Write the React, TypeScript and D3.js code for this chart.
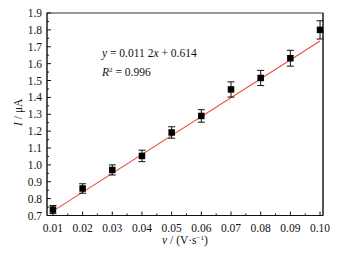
import React from "react";
import * as d3 from "d3";

const scanRates = [0.01, 0.02, 0.03, 0.04, 0.05, 0.06, 0.07, 0.08, 0.09, 0.1];
const currents = [0.735, 0.86, 0.97, 1.053, 1.192, 1.29, 1.447, 1.515, 1.632, 1.8];
const errors = [0.024, 0.028, 0.03, 0.034, 0.034, 0.037, 0.045, 0.045, 0.047, 0.054];
const xTicks = [0.01, 0.02, 0.03, 0.04, 0.05, 0.06, 0.07, 0.08, 0.09, 0.1];
const yTicks = [0.7, 0.8, 0.9, 1.0, 1.1, 1.2, 1.3, 1.4, 1.5, 1.6, 1.7, 1.8, 1.9];
const fitSlope = 11.2;
const fitIntercept = 0.614;

const W = 341, H = 259;
const L = 47, R = 323, T = 13, B = 215.5;
const font = "'Liberation Serif', 'DejaVu Serif', serif";

export default function App() {
  const x = d3.scaleLinear().domain([0.008, 0.101]).range([L, R]);
  const y = d3.scaleLinear().domain([0.7, 1.9]).range([B, T]);
  const xMinor = d3.range(0.015, 0.1, 0.01);
  const yMinor = d3.range(0.75, 1.9, 0.1);
  const line = d3.line<number>().x((d) => x(d)).y((d) => y(fitSlope * d + fitIntercept));
  const fitXs = [scanRates[0], scanRates[scanRates.length - 1]];
  const ms = 6.5;
  const cap = 3.5;
  return (
    <svg width={W} height={H} style={{ position: "absolute", left: 0, top: 0, background: "#fff" }}>
      <rect x={L} y={T} width={R - L} height={B - T} fill="none" stroke="#333" strokeWidth={1} />
      <line x1={L} y1={T} x2={L} y2={B} stroke="#111" />
      <line x1={L} y1={B} x2={R} y2={B} stroke="#111" />
      <line x1={R} y1={T} x2={R} y2={B} stroke="#111" />
      {xTicks.map((t) => (
        <g key={"xt" + t}>
          <line x1={x(t)} x2={x(t)} y1={B} y2={B - 4} stroke="#111" />
          <text x={x(t)} y={232} textAnchor="middle" fontFamily={font} fontSize={11.5} fill="#111">
            {t.toFixed(2)}
          </text>
        </g>
      ))}
      {xMinor.map((t) => (
        <line key={"xm" + t} x1={x(t)} x2={x(t)} y1={B} y2={B - 2} stroke="#111" />
      ))}
      {yTicks.map((t) => (
        <g key={"yt" + t}>
          <line x1={L} x2={L + 4} y1={y(t)} y2={y(t)} stroke="#111" />
          <text x={42} y={y(t) + 4} textAnchor="end" fontFamily={font} fontSize={11.5} fill="#111">
            {t.toFixed(1)}
          </text>
        </g>
      ))}
      {yMinor.map((t) => (
        <line key={"ym" + t} x1={L} x2={L + 2} y1={y(t)} y2={y(t)} stroke="#111" />
      ))}
      <path d={line(fitXs) || ""} stroke="#f04a3a" strokeWidth={1.1} fill="none" />
      {scanRates.map((v, i) => {
        const cx = x(v), cy = y(currents[i]);
        const y1 = y(currents[i] + errors[i]), y2 = y(currents[i] - errors[i]);
        return (
          <g key={"p" + i} stroke="#111" strokeWidth={1}>
            <line x1={cx} x2={cx} y1={y1} y2={y2} />
            <line x1={cx - cap} x2={cx + cap} y1={y1} y2={y1} />
            <line x1={cx - cap} x2={cx + cap} y1={y2} y2={y2} />
            <rect x={cx - ms / 2} y={cy - ms / 2} width={ms} height={ms} fill="#000" stroke="none" />
          </g>
        );
      })}
      <text x={102} y={57} fontFamily={font} fontSize={11.5} fill="#111">
        <tspan fontStyle="italic">y</tspan> = 0.011 2<tspan fontStyle="italic">x</tspan> + 0.614
      </text>
      <text x={102} y={76} fontFamily={font} fontSize={11.5} fill="#111">
        <tspan fontStyle="italic">R</tspan>
        <tspan fontSize={7} dy={-4}>2</tspan>
        <tspan dy={4}> = 0.996</tspan>
      </text>
      <text transform={`translate(22,${(T + B) / 2 - 2}) rotate(-90)`} textAnchor="middle" fontFamily={font} fontSize={11.5} fill="#111">
        <tspan fontStyle="italic">I</tspan> / μA
      </text>
      <text x={(L + R) / 2} y={244} textAnchor="middle" fontFamily={font} fontSize={11.5} fill="#111">
        <tspan fontStyle="italic">v</tspan> / (V·s<tspan fontSize={7} dy={-4}>−1</tspan><tspan dy={4}>)</tspan>
      </text>
    </svg>
  );
}
